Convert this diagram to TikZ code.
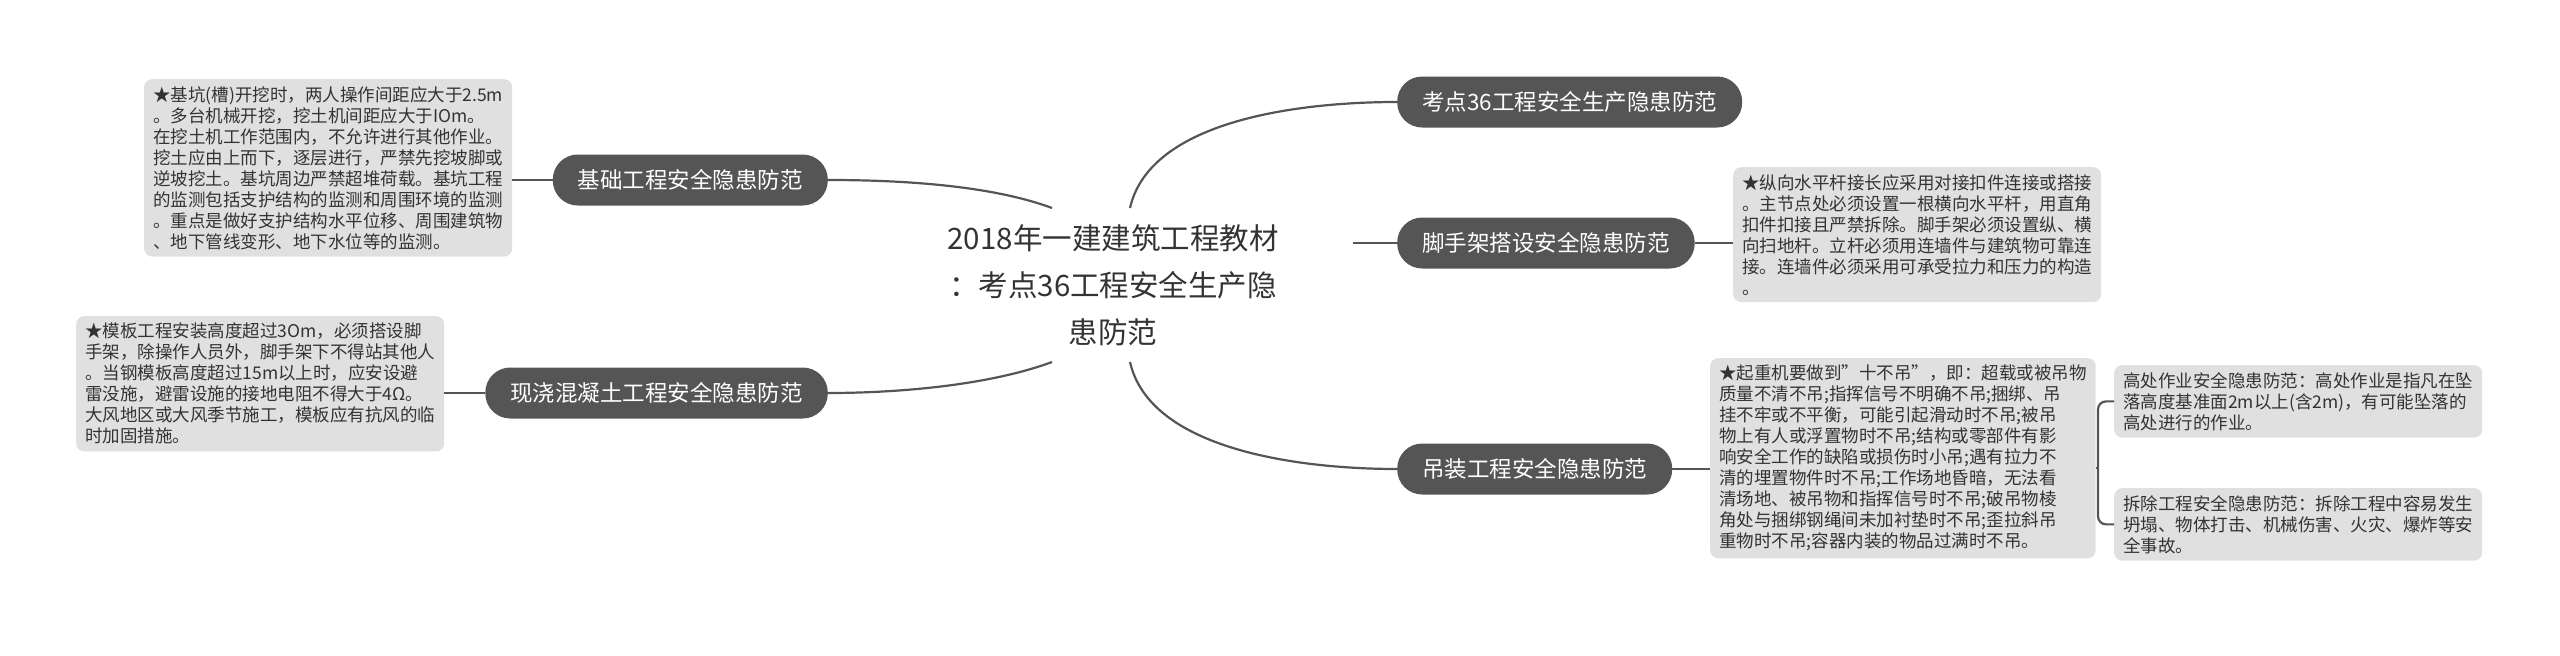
\documentclass[tikz,border=0pt]{standalone}
\usepackage{fontspec}
\setmainfont{Noto Sans CJK SC}
\begin{document}
\begin{tikzpicture}[x=1pt,y=-1pt,
  topic/.style={fill=topicgray,text=white,rounded corners=25pt,minimum height=51pt,inner xsep=25pt,font=\fontsize{22.5}{26}\selectfont,anchor=west},
  note/.style={fill=notegray,text=txt,rounded corners=8pt,align=left,inner xsep=9pt,inner ysep=7pt,font=\fontsize{17.5}{21}\selectfont,anchor=north west},
  link/.style={draw=linegray,line width=2.2pt}]
\definecolor{topicgray}{HTML}{555555}
\definecolor{notegray}{HTML}{E0E0E0}
\definecolor{linegray}{HTML}{555555}
\definecolor{txt}{HTML}{333333}
\useasboundingbox (0,0) rectangle (2560,656);
\fill[white] (0,0) rectangle (2560,656);
% center
\node[align=center,text=txt,font=\fontsize{29.5}{47}\selectfont] (c) at (1113,285) {2018年一建建筑工程教材\\：考点36工程安全生产隐\\患防范};
\coordinate (cur) at (1130,208);
\coordinate (cdr) at (1130,362);
\coordinate (cr) at (1353,243);
\coordinate (cul) at (1052,208);
\coordinate (cdl) at (1052,362);
% right topics
\node[topic] (t1) at (1397,102) {考点36工程安全生产隐患防范};
\node[topic] (t2) at (1397,243) {脚手架搭设安全隐患防范};
\node[topic] (t3) at (1397,469) {吊装工程安全隐患防范};
% left topics
\node[topic,anchor=east] (t4) at (828,180) {基础工程安全隐患防范};
\node[topic,anchor=east] (t5) at (828,393) {现浇混凝土工程安全隐患防范};
% notes
\node[note] (n1) at (144,79) {★基坑(槽)开挖时，两人操作间距应大于2.5m\\。多台机械开挖，挖土机间距应大于IOm。\\在挖土机工作范围内，不允许进行其他作业。\\挖土应由上而下，逐层进行，严禁先挖坡脚或\\逆坡挖土。基坑周边严禁超堆荷载。基坑工程\\的监测包括支护结构的监测和周围环境的监测\\。重点是做好支护结构水平位移、周围建筑物\\、地下管线变形、地下水位等的监测。};
\node[note] (n2) at (76,316) {★模板工程安装高度超过3Om，必须搭设脚\\手架，除操作人员外，脚手架下不得站其他人\\。当钢模板高度超过15m以上时，应安设避\\雷没施，避雷设施的接地电阻不得大于4Ω。\\大风地区或大风季节施工，模板应有抗风的临\\时加固措施。};
\node[note] (n3) at (1733,167) {★纵向水平杆接长应采用对接扣件连接或搭接\\。主节点处必须设置一根横向水平杆，用直角\\扣件扣接且严禁拆除。脚手架必须设置纵、横\\向扫地杆。立杆必须用连墙件与建筑物可靠连\\接。连墙件必须采用可承受拉力和压力的构造\\。};
\node[note] (n4) at (1710,358) {★起重机要做到"十不吊"，即：超载或被吊物\\质量不清不吊;指挥信号不明确不吊;捆绑、吊\\挂不牢或不平衡，可能引起滑动时不吊;被吊\\物上有人或浮置物时不吊;结构或零部件有影\\响安全工作的缺陷或损伤时小吊;遇有拉力不\\清的埋置物件时不吊;工作场地昏暗，无法看\\清场地、被吊物和指挥信号时不吊;破吊物棱\\角处与捆绑钢绳间未加衬垫时不吊;歪拉斜吊\\重物时不吊;容器内装的物品过满时不吊。};
\node[note] (n5) at (2114,365) {高处作业安全隐患防范：高处作业是指凡在坠\\落高度基准面2m以上(含2m)，有可能坠落的\\高处进行的作业。};
\node[note] (n6) at (2114,488) {拆除工程安全隐患防范：拆除工程中容易发生\\坍塌、物体打击、机械伤害、火灾、爆炸等安\\全事故。};
% connectors
\draw[link] (cur) .. controls (1150,120) and (1300,102) .. (t1.west);
\draw[link] (cr) -- (t2.west);
\draw[link] (cdr) .. controls (1150,450) and (1300,469) .. (t3.west);
\draw[link] (cul) .. controls (990,185) and (900,180) .. (t4.east);
\draw[link] (cdl) .. controls (990,385) and (900,393) .. (t5.east);
\draw[link] (t2.east) -- (n3.west |- t2.east);
\draw[link] (t3.east) -- (n4.west |- t3.east);
\draw[link] (t4.west) -- (n1.east |- t4.west);
\draw[link] (t5.west) -- (n2.east |- t5.west);
\coordinate (br) at (2098,468);
\draw[link] (n4.east |- br) -- (br);
\draw[link,rounded corners=8pt] (n5.west) -| (br) |- (n6.west);
\end{tikzpicture}
\end{document}
